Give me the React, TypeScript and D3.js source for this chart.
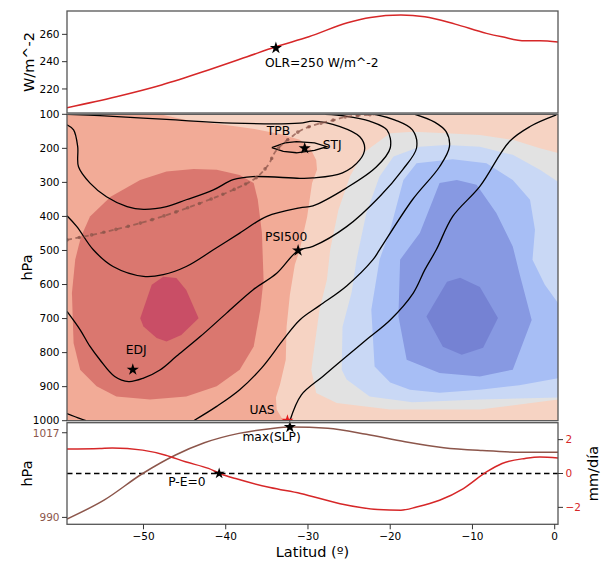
import React from 'react';
import * as d3 from 'd3';

// ---- top panel: OLR (W/m^-2)
const olrLat = [-59.3, -53.3, -47.8, -42.1, -37.4, -33.9, -29.9, -25.2, -22.4, -18.7, -15.8, -12.1, -8.3, -6.4, -3.6, -1.8, 0.4];
const olrVal = [206.3, 214.3, 222.9, 233.9, 243.6, 250.9, 258.2, 268.5, 272.4, 274.1, 272.9, 267.5, 260.7, 258.2, 255.3, 255.3, 254.4];
const olrTicks = [220, 240, 260];

// ---- bottom panel: SLP (hPa, left) and P-E (mm/dia, right)
const slpLat = [-59.3, -54.8, -50.1, -46.1, -42.6, -38.4, -34.6, -32.0, -27.6, -22.9, -18.2, -13.5, -8.8, -4.1, 0.4];
const slpVal = [989.5, 995.5, 1004.0, 1009.9, 1013.8, 1016.8, 1018.3, 1018.8, 1018.4, 1016.5, 1014.1, 1012.2, 1011.3, 1010.8, 1010.8];
const peLat = [-59.3, -55.3, -53.8, -50.1, -47.3, -44.9, -42.1, -40.5, -38.8, -34.6, -30.9, -26.1, -21.5, -18.7, -16.8, -14.0, -11.1, -8.3, -6.4, -3.6, -1.8, 0.4];
const peVal = [1.44, 1.48, 1.51, 1.38, 1.08, 0.69, 0.30, -0.04, -0.30, -0.83, -1.18, -1.78, -2.13, -2.17, -1.98, -1.58, -0.89, 0.09, 0.59, 0.89, 0.98, 0.92];
const slpTicks = [990, 1017];
const peTicks = [-2, 0, 2];

// ---- middle panel: pressure / latitude section
const pTicks = [100, 200, 300, 400, 500, 600, 700, 800, 900, 1000];
const latTicks = [-50, -40, -30, -20, -10, 0];

// filled contour bands [lat, hPa]
const ringSalmon = [[-59.3, 100], [-48.0, 100], [-44.8, 117], [-39.1, 134], [-36.5, 143], [-33.4, 158], [-31.0, 175], [-29.8, 196], [-29.0, 234], [-28.9, 263], [-29.5, 302], [-30.1, 401], [-31.0, 498], [-31.6, 542], [-32.2, 630], [-32.6, 724], [-32.7, 821], [-33.4, 894], [-33.9, 932], [-33.8, 967], [-33.0, 1000], [-59.3, 1000]];
const ringDarkRed = [[-56.5, 400], [-54.0, 342], [-50.4, 293], [-47.2, 268], [-43.9, 261], [-41.1, 263], [-38.3, 278], [-36.6, 302], [-36.1, 351], [-35.6, 449], [-35.4, 586], [-35.8, 674], [-36.6, 782], [-38.3, 850], [-41.1, 899], [-44.8, 929], [-49.2, 938], [-53.3, 929], [-55.7, 899], [-57.7, 850], [-58.5, 772], [-58.7, 625], [-58.3, 527], [-57.6, 460]];
const ringDarkest = [[-50.4, 699], [-49.0, 601], [-47.6, 577], [-46.0, 581], [-44.8, 616], [-43.3, 699], [-45.4, 748], [-47.2, 767], [-48.4, 757], [-50.0, 723]];
const ringGray = [[0.4, 214], [-1.8, 200], [-5.1, 175], [-9.1, 161], [-13.2, 156], [-17.2, 151], [-20.0, 156], [-23.3, 214], [-24.9, 283], [-26.3, 381], [-27.3, 498], [-27.7, 586], [-28.6, 674], [-29.6, 850], [-29.0, 919], [-26.5, 948], [-20.0, 967], [-9.1, 967], [0.4, 938]];
const ringLightBlue = [[0.4, 298], [-1.8, 263], [-5.1, 219], [-9.1, 195], [-13.2, 190], [-16.4, 195], [-19.6, 224], [-21.3, 283], [-22.9, 390], [-24.1, 527], [-24.7, 624], [-25.8, 724], [-25.9, 850], [-25.3, 879], [-22.5, 929], [-17.3, 946], [-9.1, 938], [0.4, 932]];
const ringBlue = [[-16.8, 244], [-12.4, 232], [-8.3, 244], [-5.1, 293], [-3.0, 351], [-2.4, 439], [-2.7, 527], [-1.2, 601], [0.4, 654], [0.4, 875], [-4.3, 896], [-9.1, 909], [-14.0, 918], [-17.6, 909], [-20.0, 888], [-21.9, 841], [-22.3, 674], [-21.3, 527], [-20.0, 439], [-18.4, 293]];
const ringMedBlue = [[-14.0, 302], [-11.9, 293], [-9.5, 307], [-7.1, 390], [-5.1, 488], [-4.3, 566], [-2.8, 704], [-5.1, 850], [-9.1, 870], [-14.0, 860], [-18.0, 821], [-19.0, 694], [-18.8, 527], [-16.4, 449], [-14.8, 351]];
const ringDarkBlue = [[-15.6, 694], [-13.1, 592], [-11.5, 580], [-9.1, 607], [-6.9, 698], [-8.7, 786], [-11.3, 806], [-13.6, 783]];

const bandRings = [ringSalmon, ringDarkRed, ringDarkest, ringGray, ringLightBlue, ringBlue, ringMedBlue, ringDarkBlue];
const bandColors = ['#f2ab97', '#da776f', '#c94e66', '#e2e2e2', '#c9d8f5', '#a7bef5', '#8799e2', '#7582d3'];
const baseColor = '#f6d3c3';

// black contour lines [lat, hPa]
const lineStj = [[-34.4, 198], [-32.8, 184], [-31.4, 180], [-29.2, 184], [-27.7, 195], [-29.2, 206], [-31.4, 213], [-33.0, 209], [-34.4, 198]];
const line2 = [[-59.3, 131], [-58.5, 146], [-58.0, 195], [-57.9, 254], [-56.5, 302], [-54.5, 342], [-52.0, 371], [-50.0, 379], [-47.2, 371], [-44.8, 351], [-41.5, 322], [-39.1, 292], [-36.7, 283], [-31.0, 288], [-29.4, 287], [-25.8, 272], [-23.7, 234], [-23.1, 199], [-23.7, 166], [-26.1, 136], [-29.4, 120], [-31.0, 126], [-39.2, 126], [-47.2, 115], [-55.3, 104], [-59.3, 100]];
const line3 = [[-59.3, 398], [-58.1, 430], [-56.1, 498], [-53.7, 547], [-50.0, 576], [-47.6, 571], [-44.8, 547], [-41.5, 498], [-38.3, 449], [-35.0, 400], [-31.0, 375], [-29.4, 369], [-25.3, 316], [-21.7, 255], [-20.0, 199], [-20.4, 146], [-22.5, 120], [-25.5, 105], [-27.9, 100]];
const line4 = [[-59.3, 679], [-57.7, 733], [-56.5, 782], [-55.3, 821], [-53.5, 870], [-51.8, 885], [-50.0, 875], [-48.0, 851], [-46.0, 811], [-43.1, 753], [-39.9, 684], [-36.7, 616], [-33.8, 567], [-31.2, 500], [-29.4, 488], [-25.3, 430], [-21.3, 342], [-18.5, 263], [-16.8, 199], [-17.3, 146], [-19.4, 117], [-21.9, 100]];
const line5a = [[-59.3, 979], [-57.7, 994], [-57.0, 1000]];
const line5 = [[-43.9, 1000], [-41.1, 958], [-38.3, 909], [-35.6, 844], [-33.0, 762], [-31.0, 704], [-28.6, 662], [-25.3, 604], [-22.1, 527], [-21.3, 498], [-17.3, 351], [-14.0, 254], [-12.8, 195], [-13.2, 151], [-14.6, 123], [-17.0, 100]];
const line6 = [[-32.2, 1000], [-30.8, 924], [-28.2, 870], [-25.3, 811], [-22.9, 762], [-20.0, 704], [-17.2, 625], [-15.8, 557], [-14.4, 498], [-12.4, 400], [-9.1, 312], [-5.5, 180], [-3.0, 136], [0.2, 102]];
const contourLines = [line2, line3, line4, line5a, line5, line6];

// tropopause (TPB)
const tpbLat = [-59.3, -55.3, -51.2, -47.2, -43.1, -39.1, -36.7, -35.0, -33.8, -32.2, -29.8, -26.9, -24.5, -21.7];
const tpbP = [469, 449, 425, 396, 361, 322, 293, 254, 205, 170, 136, 117, 105, 100];

// marked points
const olrStar = [-33.9, 250];
const stjStar = [-30.4, 200];
const psiStar = [-31.2, 500];
const edjStar = [-51.3, 850];
const uasStar = [-32.5, 1000];
const slpStar = [-32.2, 1018.8];
const peStar = [-40.8, 0];

const FONT = 'DejaVu Sans, sans-serif';
const TICK = 10.5;
const ANN = 12.3;
const LAB = 14.5;

export default function App() {
  const L = 67, R = 558;
  const x = d3.scaleLinear().domain([-59.3, 0.4]).range([L, R]);
  const yOlr = d3.scaleLinear().domain([202.4, 277.1]).range([113, 11]);
  const yP = d3.scaleLinear().domain([100, 1000]).range([114.3, 420.7]);
  const ySlp = d3.scaleLinear().domain([987.8, 1020.2]).range([524.3, 422.7]);
  const yPe = d3.scaleLinear().domain([-3, 3]).range([524.3, 422.7]);

  const olrPath = d3.line<number>().x((_, i) => x(olrLat[i])).y(d => yOlr(d)).curve(d3.curveMonotoneX)(olrVal) || '';
  const slpPath = d3.line<number>().x((_, i) => x(slpLat[i])).y(d => ySlp(d)).curve(d3.curveMonotoneX)(slpVal) || '';
  const pePath = d3.line<number>().x((_, i) => x(peLat[i])).y(d => yPe(d)).curve(d3.curveMonotoneX)(peVal) || '';
  const tpbPath = d3.line<number>().x((_, i) => x(tpbLat[i])).y(d => yP(d)).curve(d3.curveMonotoneY)(tpbP) || '';

  const ring = d3.line<number[]>().x(d => x(d[0])).y(d => yP(d[1])).curve(d3.curveLinearClosed);
  const cline = d3.line<number[]>().x(d => x(d[0])).y(d => yP(d[1])).curve(d3.curveCatmullRom.alpha(0.5));
  const lens = d3.line<number[]>().x(d => x(d[0])).y(d => yP(d[1])).curve(d3.curveLinear);
  const star = d3.symbol().type(d3.symbolStar).size(46)() || '';
  const smallStar = d3.symbol().type(d3.symbolStar).size(40)() || '';

  const midTop = yP(100), midBot = yP(1000);

  const leftTicks = (vals: number[], scale: (v: number) => number, color: string, fmt?: (v: number) => string) =>
    vals.map(v => (
      <g key={v} transform={`translate(${L},${scale(v)})`}>
        <line x1={-5} x2={0} stroke="#333" strokeWidth={1} />
        <text x={-7.5} dy="0.36em" textAnchor="end" fontSize={TICK} fill={color}>{fmt ? fmt(v) : v}</text>
      </g>
    ));

  const minus = (v: number) => (v < 0 ? '\u2212' + Math.abs(v) : String(v));

  return (
    <svg width={602} height={563} style={{ position: 'absolute', left: 0, top: 0 }} fontFamily={FONT}>
      <defs>
        <clipPath id="clipTop"><rect x={L} y={11} width={R - L} height={102} /></clipPath>
        <clipPath id="clipMid"><rect x={L} y={midTop} width={R - L} height={midBot - midTop} /></clipPath>
        <clipPath id="clipBot"><rect x={L} y={422.7} width={R - L} height={524.3 - 422.7} /></clipPath>
      </defs>
      <rect width={602} height={563} fill="#fff" />

      {/* top panel */}
      <g clipPath="url(#clipTop)">
        <path d={olrPath} fill="none" stroke="#d62728" strokeWidth={1.5} />
      </g>
      <path d={star} transform={`translate(${x(olrStar[0])},${yOlr(olrStar[1])})`} fill="#000" />
      <text x={x(olrStar[0]) - 11} y={yOlr(olrStar[1]) + 19} fontSize={ANN}>OLR=250 W/m^-2</text>
      <rect x={L} y={11} width={R - L} height={102} fill="none" stroke="#555" strokeWidth={1.3} />
      {leftTicks(olrTicks, yOlr, '#000')}
      <text transform={`translate(29,${(11 + 113) / 2}) rotate(-90)`} textAnchor="middle" dy="0.35em" fontSize={LAB}>W/m^-2</text>

      {/* middle panel */}
      <g clipPath="url(#clipMid)">
        <rect x={L} y={midTop} width={R - L} height={midBot - midTop} fill={baseColor} />
        {bandRings.map((r, i) => (
          <path key={i} d={ring(r) || ''} fill={bandColors[i]} />
        ))}
        {contourLines.map((c, i) => (
          <path key={i} d={cline(c) || ''} fill="none" stroke="#000" strokeWidth={1.3} />
        ))}
        <path d={lens(lineStj) || ''} fill="none" stroke="#000" strokeWidth={1.3} />
        <path d={tpbPath} fill="none" stroke="#8c564b" strokeOpacity={0.75} strokeWidth={1.8} strokeDasharray="5 3.5" />
        <path d={tpbPath} fill="none" stroke="#8c564b" strokeOpacity={0.75} strokeWidth={3.6} strokeDasharray="0 12.5" strokeLinecap="round" />
        <path d={star} transform={`translate(${x(uasStar[0])},${yP(uasStar[1])})`} fill="#e31a1c" />
      </g>
      <path d={star} transform={`translate(${x(stjStar[0])},${yP(stjStar[1])})`} fill="#000" />
      <path d={star} transform={`translate(${x(psiStar[0])},${yP(psiStar[1])})`} fill="#000" />
      <path d={star} transform={`translate(${x(edjStar[0])},${yP(edjStar[1])})`} fill="#000" />
      <text x={x(-35.0)} y={yP(161)} fontSize={ANN}>TPB</text>
      <text x={x(stjStar[0]) + 18} y={yP(stjStar[1]) + 1} fontSize={ANN}>STJ</text>
      <text x={x(psiStar[0]) - 33} y={yP(psiStar[1]) - 9} fontSize={ANN}>PSI500</text>
      <text x={x(edjStar[0]) - 7} y={yP(edjStar[1]) - 16} fontSize={ANN}>EDJ</text>
      <text x={x(uasStar[0]) - 38} y={yP(uasStar[1]) - 7} fontSize={ANN}>UAS</text>
      <rect x={L} y={midTop} width={R - L} height={midBot - midTop} fill="none" stroke="#555" strokeWidth={1.3} />
      {leftTicks(pTicks, yP, '#000')}
      <text transform={`translate(27,${(midTop + midBot) / 2}) rotate(-90)`} textAnchor="middle" dy="0.35em" fontSize={LAB}>hPa</text>

      {/* bottom panel */}
      <g clipPath="url(#clipBot)">
        <line x1={L} x2={R} y1={yPe(0)} y2={yPe(0)} stroke="#000" strokeWidth={1.5} strokeDasharray="5.5 3.5" />
        <path d={slpPath} fill="none" stroke="#8c564b" strokeWidth={1.5} />
        <path d={pePath} fill="none" stroke="#d62728" strokeWidth={1.5} />
      </g>
      <path d={star} transform={`translate(${x(slpStar[0])},${ySlp(slpStar[1])})`} fill="#000" />
      <path d={smallStar} transform={`translate(${x(peStar[0])},${yPe(peStar[1])})`} fill="#000" />
      <text x={x(slpStar[0]) - 47.5} y={ySlp(slpStar[1]) + 13.5} fontSize={ANN}>max(SLP)</text>
      <text x={x(peStar[0]) - 51} y={yPe(peStar[1]) + 12} fontSize={ANN}>P-E=0</text>
      <rect x={L} y={422.7} width={R - L} height={524.3 - 422.7} fill="none" stroke="#555" strokeWidth={1.3} />
      {leftTicks(slpTicks, ySlp, '#8c564b')}
      {peTicks.map(v => (
        <g key={v} transform={`translate(${R},${yPe(v)})`}>
          <line x1={0} x2={5} stroke="#333" strokeWidth={1} />
          <text x={7.5} dy="0.36em" fontSize={TICK} fill="#d62728">{minus(v)}</text>
        </g>
      ))}
      <text transform={`translate(27,${(422.7 + 524.3) / 2}) rotate(-90)`} textAnchor="middle" dy="0.35em" fontSize={LAB}>hPa</text>
      <text transform={`translate(593,${(422.7 + 524.3) / 2}) rotate(-90)`} textAnchor="middle" dy="0.35em" fontSize={LAB}>mm/día</text>

      {latTicks.map(v => (
        <g key={v} transform={`translate(${x(v)},524.3)`}>
          <line y1={0} y2={5} stroke="#333" strokeWidth={1} />
          <text y={16} textAnchor="middle" fontSize={TICK}>{minus(v)}</text>
        </g>
      ))}
      <text x={(L + R) / 2} y={557} textAnchor="middle" fontSize={LAB}>Latitud (º)</text>
    </svg>
  );
}
